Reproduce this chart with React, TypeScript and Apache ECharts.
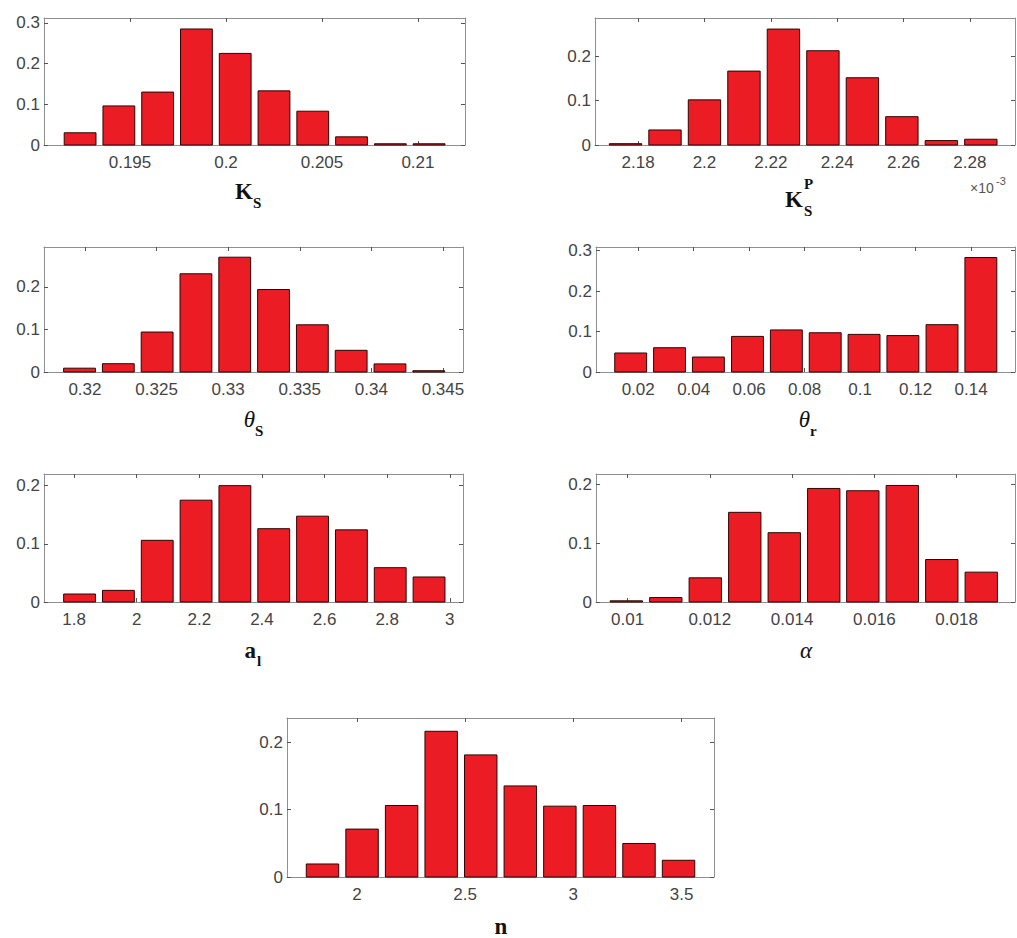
import React, { useEffect, useRef } from "react";
import * as echarts from "echarts";

// ---- Data (bin centres and relative frequencies) ----
const ksCenters = [0.1924, 0.19442, 0.19644, 0.19846, 0.20048, 0.2025, 0.20452, 0.20654, 0.20856, 0.21058];
const ksValues = [0.030, 0.096, 0.130, 0.285, 0.225, 0.133, 0.083, 0.020, 0.003, 0.003];
const ksXTicks = [0.195, 0.2, 0.205, 0.21];
const ksYTicks = [0, 0.1, 0.2, 0.3];

const kspCenters = [2.1762, 2.1881, 2.2, 2.2119, 2.2238, 2.2357, 2.2476, 2.2595, 2.2714, 2.2833];
const kspValues = [0.003, 0.034, 0.102, 0.167, 0.262, 0.213, 0.152, 0.064, 0.010, 0.013];
const kspXTicks = [2.18, 2.2, 2.22, 2.24, 2.26, 2.28];
const kspYTicks = [0, 0.1, 0.2];

const thetaSCenters = [0.31962, 0.32233, 0.32504, 0.32775, 0.33046, 0.33317, 0.33588, 0.33859, 0.3413, 0.34401];
const thetaSValues = [0.009, 0.0195, 0.094, 0.231, 0.270, 0.194, 0.111, 0.051, 0.019, 0.003];
const thetaSXTicks = [0.32, 0.325, 0.33, 0.335, 0.34, 0.345];
const thetaSYTicks = [0, 0.1, 0.2];

const thetaRCenters = [0.0173, 0.0313, 0.0453, 0.0594, 0.0734, 0.0874, 0.1014, 0.1154, 0.1295, 0.1435];
const thetaRValues = [0.047, 0.060, 0.037, 0.088, 0.104, 0.097, 0.093, 0.090, 0.117, 0.283];
const thetaRXTicks = [0.02, 0.04, 0.06, 0.08, 0.1, 0.12, 0.14];
const thetaRYTicks = [0, 0.1, 0.2, 0.3];

const alCenters = [1.8176, 1.9416, 2.0656, 2.1896, 2.3136, 2.4376, 2.5616, 2.6856, 2.8096, 2.9336];
const alValues = [0.0137, 0.020, 0.106, 0.175, 0.200, 0.126, 0.1475, 0.124, 0.059, 0.043];
const alXTicks = [1.8, 2, 2.2, 2.4, 2.6, 2.8, 3];
const alYTicks = [0, 0.1, 0.2];

const alphaCenters = [0.00997, 0.01093, 0.01189, 0.01285, 0.01381, 0.01477, 0.01572, 0.01668, 0.01764, 0.0186];
const alphaValues = [0.002, 0.0075, 0.041, 0.152, 0.1175, 0.1925, 0.1886, 0.1976, 0.072, 0.0506];
const alphaXTicks = [0.01, 0.012, 0.014, 0.016, 0.018];
const alphaYTicks = [0, 0.1, 0.2];

const nCenters = [1.841, 2.0238, 2.2066, 2.3894, 2.5722, 2.755, 2.9378, 3.1206, 3.3034, 3.4862];
const nValues = [0.0193, 0.071, 0.106, 0.216, 0.181, 0.135, 0.105, 0.106, 0.0497, 0.0248];
const nXTicks = [2, 2.5, 3, 3.5];
const nYTicks = [0, 0.1, 0.2];

// ---- Panel definitions (data refs + axis ranges) ----
const panels = [
  { centers: ksCenters, values: ksValues, bin: 0.00202, xMin: 0.19052, xMax: 0.21245, yMax: 0.312, xTicks: ksXTicks, yTicks: ksYTicks },
  { centers: kspCenters, values: kspValues, bin: 0.0119, xMin: 2.167, xMax: 2.2936, yMax: 0.287, xTicks: kspXTicks, yTicks: kspYTicks },
  { centers: thetaSCenters, values: thetaSValues, bin: 0.00271, xMin: 0.31714, xMax: 0.3464, yMax: 0.294, xTicks: thetaSXTicks, yTicks: thetaSYTicks },
  { centers: thetaRCenters, values: thetaRValues, bin: 0.01402, xMin: 0.0048, xMax: 0.1558, yMax: 0.309, xTicks: thetaRXTicks, yTicks: thetaRYTicks },
  { centers: alCenters, values: alValues, bin: 0.124, xMin: 1.704, xMax: 3.042, yMax: 0.22, xTicks: alXTicks, yTicks: alYTicks },
  { centers: alphaCenters, values: alphaValues, bin: 0.000959, xMin: 0.009233, xMax: 0.01942, yMax: 0.217, xTicks: alphaXTicks, yTicks: alphaYTicks },
  { centers: nCenters, values: nValues, bin: 0.1828, xMin: 1.677, xMax: 3.65, yMax: 0.2357, xTicks: nXTicks, yTicks: nYTicks },
];

// ---- Layout ----
const gridBoxes = [
  { left: 44, top: 18, width: 421, height: 127 },
  { left: 595, top: 18, width: 420, height: 127 },
  { left: 44, top: 247, width: 419, height: 125 },
  { left: 596, top: 247, width: 419, height: 125 },
  { left: 44, top: 474, width: 419, height: 128 },
  { left: 596, top: 474, width: 419, height: 128 },
  { left: 287, top: 718, width: 427, height: 159 },
];

const BAR_FRACTION = 0.82;
const AXIS_COLOR = "#8f8f8f";
const LABEL_COLOR = "#444444";
const SANS = '"Liberation Sans", Arial, sans-serif';
const SERIF = '"Liberation Serif", "Times New Roman", serif';
const fmt = (v: number) => String(+Number(v).toPrecision(6));

function buildOption() {
  const grid: any[] = [];
  const xAxis: any[] = [];
  const yAxis: any[] = [];
  const series: any[] = [];

  panels.forEach((p, i) => {
    grid.push({ ...gridBoxes[i], show: false, containLabel: false, outerBoundsMode: "none" });
    const common = {
      type: "value",
      gridIndex: i,
      splitLine: { show: false },
      axisLine: { show: true, onZero: false, lineStyle: { color: AXIS_COLOR, width: 1 } },
    };
    xAxis.push({
      ...common,
      position: "bottom",
      min: p.xMin,
      max: p.xMax,
      axisTick: { show: true, inside: true, length: 4, customValues: p.xTicks, lineStyle: { color: "#555" } },
      axisLabel: {
        show: true,
        customValues: p.xTicks,
        formatter: fmt,
        fontSize: 17,
        fontFamily: SANS,
        color: LABEL_COLOR,
        margin: 9,
      },
    });
    xAxis.push({
      ...common,
      position: "top",
      min: p.xMin,
      max: p.xMax,
      axisTick: { show: true, inside: true, length: 4, customValues: p.xTicks, lineStyle: { color: "#555" } },
      axisLabel: { show: false },
    });
    yAxis.push({
      ...common,
      position: "left",
      min: 0,
      max: p.yMax,
      axisTick: { show: true, inside: true, length: 4, customValues: p.yTicks, lineStyle: { color: "#555" } },
      axisLabel: {
        show: true,
        customValues: p.yTicks,
        formatter: fmt,
        fontSize: 17,
        fontFamily: SANS,
        color: LABEL_COLOR,
        margin: 4,
      },
    });
    yAxis.push({
      ...common,
      position: "right",
      min: 0,
      max: p.yMax,
      axisTick: { show: true, inside: true, length: 4, customValues: p.yTicks, lineStyle: { color: "#555" } },
      axisLabel: { show: false },
    });

    const half = (p.bin * BAR_FRACTION) / 2;
    series.push({
      type: "custom",
      xAxisIndex: 2 * i,
      yAxisIndex: 2 * i,
      encode: { x: 0, y: 1 },
      data: p.centers.map((c, k) => [c, p.values[k]]),
      renderItem: (params: any, api: any) => {
        const x = api.value(0);
        const y = api.value(1);
        const p0 = api.coord([x - half, y]);
        const p1 = api.coord([x + half, 0]);
        return {
          type: "rect",
          shape: { x: p0[0], y: p0[1], width: p1[0] - p0[0], height: p1[1] - p0[1] },
          style: { fill: "#ec1c24", stroke: "#2b0505", lineWidth: 1 },
        };
      },
    });
  });

  const bold = (size: number) => `bold ${size}px ${SERIF}`;
  const ital = (size: number) => `italic ${size}px ${SERIF}`;
  const t = (text: string, x: number, y: number, font: string, align = "left", fill = "#111") => ({
    type: "text",
    x,
    y,
    silent: true,
    style: { text, font, fill, align, verticalAlign: "middle" },
  });

  const graphic = [
    // K_S
    t("K", 253, 191.5, bold(23), "right"),
    t("S", 253, 203, bold(15)),
    // K_S^P
    t("K", 803, 199.5, bold(23), "right"),
    t("P", 804, 184, bold(15)),
    t("S", 804, 211, bold(15)),
    t("×10", 970, 188, `14px ${SANS}`, "left", "#555"),
    t("-3", 996, 181, `11px ${SANS}`, "left", "#555"),
    // theta_S
    t("θ", 255, 419, ital(23), "right"),
    t("S", 255, 431, bold(15)),
    // theta_r
    t("θ", 810, 419, ital(23), "right"),
    t("r", 810, 431, bold(15)),
    // a_l
    t("a", 256, 650, bold(23), "right"),
    t("l", 257, 661, bold(15)),
    // alpha
    t("α", 806, 650, ital(23), "center"),
    // n
    t("n", 501, 926, bold(23), "center"),
  ];

  return {
    animation: false,
    backgroundColor: "#ffffff",
    grid,
    xAxis,
    yAxis,
    series,
    graphic,
  };
}

export default function App() {
  const ref = useRef<HTMLDivElement | null>(null);
  useEffect(() => {
    if (!ref.current) return;
    const chart = echarts.init(ref.current, undefined, { renderer: "svg" });
    chart.setOption(buildOption() as any);
    return () => chart.dispose();
  }, []);
  return (
    <div
      ref={ref}
      style={{ position: "absolute", left: 0, top: 0, width: 1017, height: 938, background: "#fff" }}
    />
  );
}
